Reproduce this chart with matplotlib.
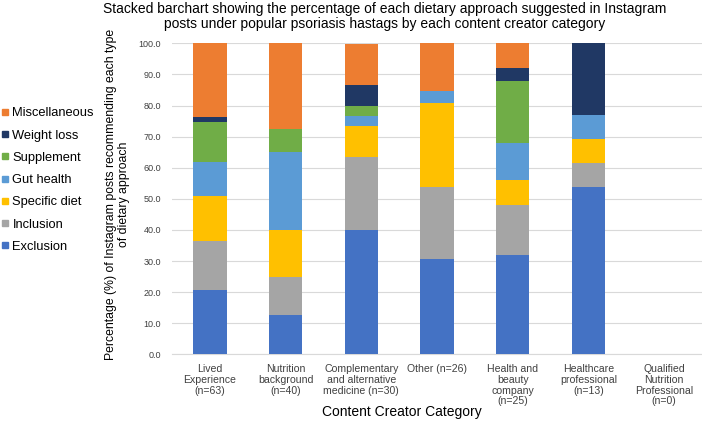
import matplotlib.pyplot as plt
import numpy as np
from matplotlib.lines import Line2D

plt.rcParams['font.family'] = ['Liberation Sans', 'DejaVu Sans']

categories = ["Lived\nExperience\n(n=63)", "Nutrition\nbackground\n(n=40)",
              "Complementary\nand alternative\nmedicine (n=30)", "Other (n=26)",
              "Health and\nbeauty\ncompany\n(n=25)", "Healthcare\nprofessional\n(n=13)",
              "Qualified\nNutrition\nProfessional\n(n=0)"]

series = ["Exclusion", "Inclusion", "Specific diet", "Gut health",
          "Supplement", "Weight loss", "Miscellaneous"]

exclusion     = [20.6, 12.5, 40.0, 30.8, 32.0, 53.8, 0]
inclusion     = [15.9, 12.5, 23.3, 23.1, 16.0, 7.7, 0]
specific_diet = [14.3, 15.0, 10.0, 26.9, 8.0, 7.7, 0]
gut_health    = [11.1, 25.0, 3.3, 3.8, 12.0, 7.7, 0]
supplement    = [12.7, 7.5, 3.3, 0.0, 20.0, 0.0, 0]
weight_loss   = [1.6, 0.0, 6.7, 0.0, 4.0, 23.1, 0]
miscellaneous = [23.8, 27.5, 13.3, 15.4, 8.0, 0.0, 0]

colors = ["#4472C4", "#A5A5A5", "#FFC000", "#5B9BD5", "#70AD47", "#203864", "#ED7D31"]

values = [exclusion, inclusion, specific_diet, gut_health, supplement, weight_loss, miscellaneous]

fig = plt.figure(figsize=(7.02, 4.29), dpi=100)
ax = fig.add_axes([0.245, 0.174, 0.755, 0.725])

x = np.arange(len(categories))
bottom = np.zeros(len(categories))
for name, vals, c in zip(series, values, colors):
    ax.bar(x, vals, 0.44, bottom=bottom, color=c, label=name, zorder=3)
    bottom += np.array(vals)

ax.set_xlim(-0.5, len(categories) - 0.5)
ax.set_ylim(0, 100)
ax.set_yticks(np.arange(0, 101, 10))
ax.set_yticklabels([f"{v:.1f}" for v in np.arange(0, 101, 10)], fontsize=6.5, color="#404040")
ax.set_xticks(x)
ax.set_xticklabels(categories, fontsize=7.6, color="#404040", linespacing=1.1)
ax.tick_params(length=0, pad=8)
ax.tick_params(axis='x', pad=7)
ax.grid(axis='y', color="#d9d9d9", linewidth=0.8, zorder=0)
for s in ['top', 'right', 'left']:
    ax.spines[s].set_visible(False)
ax.spines['bottom'].set_color("#d9d9d9")

ax.set_ylabel("Percentage (%) of Instagram posts recommending each type\nof dietary approach",
              fontsize=8.8, linespacing=1.05)
ax.yaxis.set_label_coords(-0.080, 0.513)
ax.set_xlabel("Content Creator Category", fontsize=10)
ax.xaxis.set_label_coords(0.434, -0.164)

fig.text(0.5484, 0.995,
         "Stacked barchart showing the percentage of each dietary approach suggested in Instagram\n"
         "posts under popular psoriasis hastags by each content creator category",
         fontsize=10, ha='center', va='top', linespacing=1.05)

handles = [Line2D([], [], marker='s', linestyle='none', markersize=4.3, color=c)
           for c in colors[::-1]]
fig.legend(handles, series[::-1], loc='upper left', bbox_to_anchor=(-0.008, 0.765),
           frameon=False, fontsize=9.3, handlelength=0.6, handletextpad=0.3,
           labelspacing=0.79, borderpad=0)

fig.savefig("out.png", dpi=100)
